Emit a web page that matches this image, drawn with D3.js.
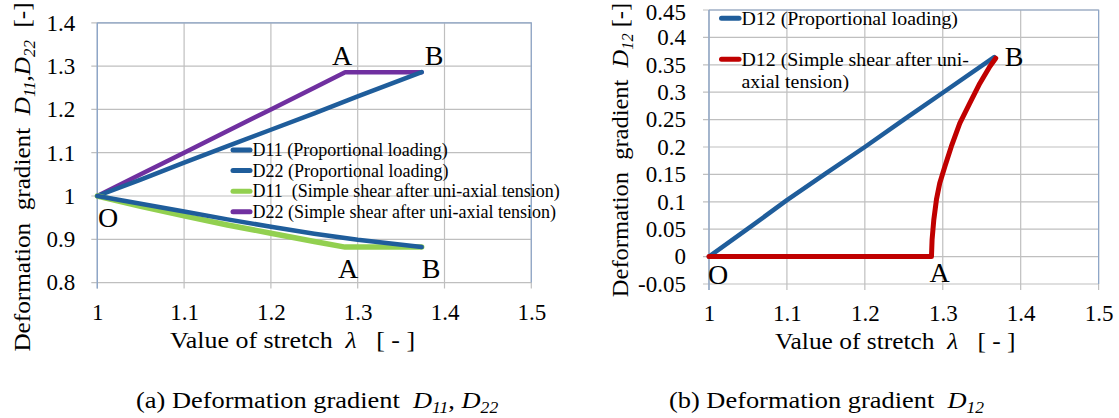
<!DOCTYPE html>
<html><head><meta charset="utf-8">
<script src="https://cdn.jsdelivr.net/npm/d3@7"></script>
<style>
html,body{margin:0;padding:0;background:#fff;}
svg text{font-family:"Liberation Serif","Times New Roman",serif;fill:#000;white-space:pre;}
</style></head><body>
<svg id="c" width="1119" height="418"></svg>
<script>
// ---------- data ----------
const xTicks = [1, 1.1, 1.2, 1.3, 1.4, 1.5];
const xTickLabels = ["1", "1.1", "1.2", "1.3", "1.4", "1.5"];
const yTicksA = [0.8, 0.9, 1.0, 1.1, 1.2, 1.3, 1.4];
const yTickLabelsA = ["0.8", "0.9", "1", "1.1", "1.2", "1.3", "1.4"];
const yTicksB = [-0.05, 0, 0.05, 0.1, 0.15, 0.2, 0.25, 0.3, 0.35, 0.4, 0.45];
const yTickLabelsB = ["-0.05", "0", "0.05", "0.1", "0.15", "0.2", "0.25", "0.3", "0.35", "0.4", "0.45"];

// (a) proportional loading
const lambdaProp = [1.0, 1.05, 1.1, 1.15, 1.2, 1.25, 1.3, 1.3737];
const d11Prop = [1.0, 0.982, 0.964, 0.946, 0.929, 0.913, 0.899, 0.882];
const d22Prop = [1.0, 1.038, 1.077, 1.115, 1.153, 1.191, 1.230, 1.286];
// (a) simple shear after uni-axial tension
const lambdaSS = [1.0, 1.05, 1.1, 1.15, 1.2, 1.25, 1.2855, 1.3737];
const d11SS = [1.0, 0.976, 0.954, 0.933, 0.914, 0.895, 0.882, 0.882];
const d22SS = [1.0, 1.05, 1.1, 1.15, 1.2, 1.25, 1.2857, 1.2857];

// (b) D12
const lambdaD12Prop = [1.0, 1.05, 1.1, 1.15, 1.2, 1.25, 1.3, 1.366];
const d12Prop = [0, 0.051, 0.103, 0.152, 0.2, 0.25, 0.299, 0.364];
const lambdaD12SS = [1.0, 1.2855, 1.2863, 1.2885, 1.2919, 1.2961, 1.3026, 1.311, 1.3218, 1.3347, 1.3475, 1.3604, 1.368];
const d12SS = [0, 0, 0.031, 0.067, 0.104, 0.134, 0.164, 0.201, 0.243, 0.280, 0.316, 0.347, 0.362];

const legendA = ["D11 (Proportional loading)", "D22 (Proportional loading)", "D11  (Simple shear after uni-axial tension)", "D22 (Simple shear after uni-axial tension)"];
const legendB = [["D12 (Proportional loading)"], ["D12 (Simple shear after uni-", "axial tension)"]];

// ---------- style ----------
const BLUE = "#1f5d9b", GREEN = "#92d050", PURPLE = "#7030a0", RED = "#c00000";
const GRID = "#bfbfbf", FRAME = "#8ea6c8";

const svg = d3.select("#c");

function panel(opt) {
  const g = svg.append("g");
  const x = opt.x, y = opt.y;
  const [x0, x1] = x.range(), [y0, y1] = y.range();
  g.append("g").selectAll("line").data(opt.yTicks).join("line")
    .attr("x1", x0 - 6).attr("x2", x1).attr("y1", d => y(d)).attr("y2", d => y(d))
    .attr("stroke", GRID).attr("stroke-width", 1.2);
  g.append("g").selectAll("line").data(opt.xTicks).join("line")
    .attr("x1", d => x(d)).attr("x2", d => x(d)).attr("y1", y1).attr("y2", y0 + 6)
    .attr("stroke", GRID).attr("stroke-width", 1.2);
  g.append("path").attr("d", `M${x0},${y1}H${x1}V${y0}`).attr("fill", "none").attr("stroke", FRAME).attr("stroke-width", 1.2);
  g.append("line").attr("x1", x0).attr("x2", x0).attr("y1", y1).attr("y2", y0 + 6).attr("stroke", FRAME).attr("stroke-width", 1.4);
  const ay = g.append("g").attr("transform", `translate(${x0},0)`)
    .call(d3.axisLeft(y).tickValues(opt.yTicks).tickSize(0).tickPadding(opt.yPad)
      .tickFormat((d, i) => opt.yLabels[i]));
  const ax = g.append("g").attr("transform", `translate(0,${y0})`)
    .call(d3.axisBottom(x).tickValues(opt.xTicks).tickSize(0).tickPadding(21)
      .tickFormat((d, i) => xTickLabels[i]));
  [ay, ax].forEach(a => {
    a.select(".domain").remove();
    a.selectAll("text").attr("font-family", "Liberation Serif").attr("font-size", 23);
  });
  // keep the top label inside the picture
  ay.selectAll("text").filter(d => y(d) < 15).attr("dy", "0.42em");
  return g;
}

function series(g, x, y, xs, ys, color, w) {
  const line = d3.line().x((d, i) => x(xs[i])).y((d, i) => y(ys[i]));
  g.append("path").attr("d", line(ys)).attr("fill", "none").attr("stroke", color)
    .attr("stroke-width", w).attr("stroke-linejoin", "round").attr("stroke-linecap", "round");
}

function label(t, px, py, size) {
  svg.append("text").attr("x", px).attr("y", py).attr("font-size", size || 28)
    .attr("text-anchor", "middle").text(t);
}

function subText(transform, parts, anchor) {
  const t = svg.append("text").attr("transform", transform).attr("font-size", 24)
    .attr("text-anchor", anchor || "start");
  parts.forEach(p => {
    const s = t.append("tspan").text(p.t);
    if (p.i) s.attr("font-style", "italic");
    if (p.sub) s.attr("font-size", 16).attr("dy", 5);
    if (p.up) s.attr("dy", -5);
  });
  return t;
}

// ---------- panel (a) ----------
const xA = d3.scaleLinear([1, 1.5], [97.3, 531.3]);
const yA = d3.scaleLinear([0.8, 1.4], [282.6, 22.8]);
const gA = panel({x: xA, y: yA, xTicks, yTicks: yTicksA, yLabels: yTickLabelsA, yPad: 22});
series(gA, xA, yA, lambdaSS, d22SS, PURPLE, 4.5);
series(gA, xA, yA, lambdaProp, d22Prop, BLUE, 4.5);
series(gA, xA, yA, lambdaSS, d11SS, GREEN, 5.5);
series(gA, xA, yA, lambdaProp, d11Prop, BLUE, 4.5);

const legColorsA = [BLUE, BLUE, GREEN, PURPLE];
legendA.forEach((t, i) => {
  const ly = 150 + i * 20.6;
  svg.append("line").attr("x1", 233).attr("x2", 250).attr("y1", ly).attr("y2", ly)
    .attr("stroke", legColorsA[i]).attr("stroke-width", 5).attr("stroke-linecap", "round");
  svg.append("text").attr("x", 252.5).attr("y", ly + 6).attr("font-size", 18).text(t);
});

label("A", 342, 65); label("B", 434, 65);
label("A", 348, 278); label("B", 431, 278);
label("O", 108, 227);

subText("translate(170,348) scale(1.08,1)", [{t: "Value of stretch  "}, {t: "λ", i: 1}, {t: "   [ - ]"}]);
subText("translate(30,177) rotate(-90) scale(1.05,1)", [
  {t: "Deformation  gradient  "}, {t: "D", i: 1}, {t: "11", i: 1, sub: 1}, {t: ",", up: 1},
  {t: "D", i: 1}, {t: "22", i: 1, sub: 1}, {t: "  [-]", up: 1}], "middle");
subText("translate(136,408) scale(1.1,1)", [
  {t: "(a) Deformation gradient  "}, {t: "D", i: 1}, {t: "11", i: 1, sub: 1}, {t: ", ", up: 1},
  {t: "D", i: 1}, {t: "22", i: 1, sub: 1}]);

// ---------- panel (b) ----------
const xB = d3.scaleLinear([1, 1.5], [709, 1098.6]);
const yB = d3.scaleLinear([-0.05, 0.45], [284, 10]);
const gB = panel({x: xB, y: yB, xTicks, yTicks: yTicksB, yLabels: yTickLabelsB, yPad: 23});
series(gB, xB, yB, lambdaD12Prop, d12Prop, BLUE, 4.5);
series(gB, xB, yB, lambdaD12SS, d12SS, RED, 5);

const legColorsB = [BLUE, RED];
legendB.forEach((lines, i) => {
  const ly = 18.3 + i * 41;
  svg.append("line").attr("x1", 721.5).attr("x2", 739).attr("y1", ly).attr("y2", ly)
    .attr("stroke", legColorsB[i]).attr("stroke-width", 5).attr("stroke-linecap", "round");
  lines.forEach((t, j) => {
    svg.append("text").attr("x", 741.5).attr("y", ly + 6.5 + j * 22).attr("font-size", 19.5)
      .attr("transform", `translate(741.5,0) scale(1.02,1) translate(-741.5,0)`).text(t);
  });
});

label("B", 1014, 66);
label("O", 718, 284);
label("A", 939.5, 281.5);

subText("translate(775,349) scale(1.06,1)", [{t: "Value of stretch  "}, {t: "λ", i: 1}, {t: "   [ - ]"}]);
subText("translate(628,150) rotate(-90) scale(1.02,1)", [
  {t: "Deformation  gradient  "}, {t: "D", i: 1}, {t: "12", i: 1, sub: 1}, {t: " [-]", up: 1}], "middle");
subText("translate(669,408) scale(1.1,1)", [
  {t: "(b) Deformation gradient  "}, {t: "D", i: 1}, {t: "12", i: 1, sub: 1}]);
</script>
</body></html>
